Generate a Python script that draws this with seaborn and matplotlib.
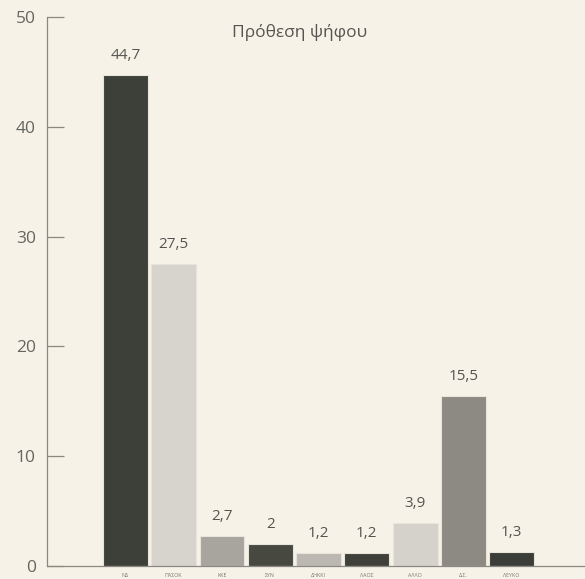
import numpy as np
import pandas as pd
import matplotlib
matplotlib.use('Agg')
import matplotlib.pyplot as plt
import seaborn as sns

# Данные
parties = ['ΝΔ', 'ΠΑΣΟΚ', 'ΚΚΕ', 'ΣΥΝ', 'ΔΗΚΚΙ', 'ΛΑΟΣ', 'ΑΛΛΟ', 'Δ.Σ.', 'ΛΕΥΚΟ']
votes = [44.7, 27.5, 2.7, 2.0, 1.2, 1.2, 3.9, 15.5, 1.3]
value_labels = ['44,7', '27,5', '2,7', '2', '1,2', '1,2', '3,9', '15,5', '1,3']
bar_colors = ['#3d4137', '#d9d5cc', '#a9a69b', '#484a40', '#bdb9af',
              '#3f4139', '#d7d3ca', '#8d8b81', '#3b3f37']

df = pd.DataFrame({'party': parties, 'votes': votes})

sns.set_style('white')
plt.rcParams['font.family'] = ['Open Sans', 'DejaVu Sans']

bg = '#f6f2e8'
fig = plt.figure(figsize=(5.85, 5.79), dpi=100, facecolor=bg)
ax = fig.add_axes([0.080, 0.0225, 0.92, 0.948])
ax.set_facecolor(bg)

sns.barplot(data=df, x='party', y='votes', hue='party', palette=bar_colors,
            width=0.93, edgecolor='#e8e4da', linewidth=0.8, legend=False, ax=ax)

for i, (v, lab) in enumerate(zip(votes, value_labels)):
    ax.text(i, v + 1.1, lab, ha='center', va='bottom', fontsize=11, color='#555550')

ax.set_xlim(-1.63, 9.52)
ax.set_ylim(0, 50)
ax.set_yticks([0, 10, 20, 30, 40, 50])
ax.tick_params(axis='y', left=True, direction='in', length=12, width=0.9, color='#8a8880',
               labelsize=12.5, labelcolor='#666660', pad=8)
ax.tick_params(axis='x', bottom=False, labelsize=3.8, labelcolor='#777770', pad=1.5)
ax.set_xlabel('')
ax.set_ylabel('')

for side in ['top', 'right']:
    ax.spines[side].set_visible(False)
for side in ['left', 'bottom']:
    ax.spines[side].set_color('#8a8880')
    ax.spines[side].set_linewidth(0.9)

ax.text(3.6, 48.6, 'Πρόθεση ψήφου', ha='center', va='center', fontsize=12.5, color='#555550')

plt.savefig('out.png', dpi=100, facecolor=bg)
